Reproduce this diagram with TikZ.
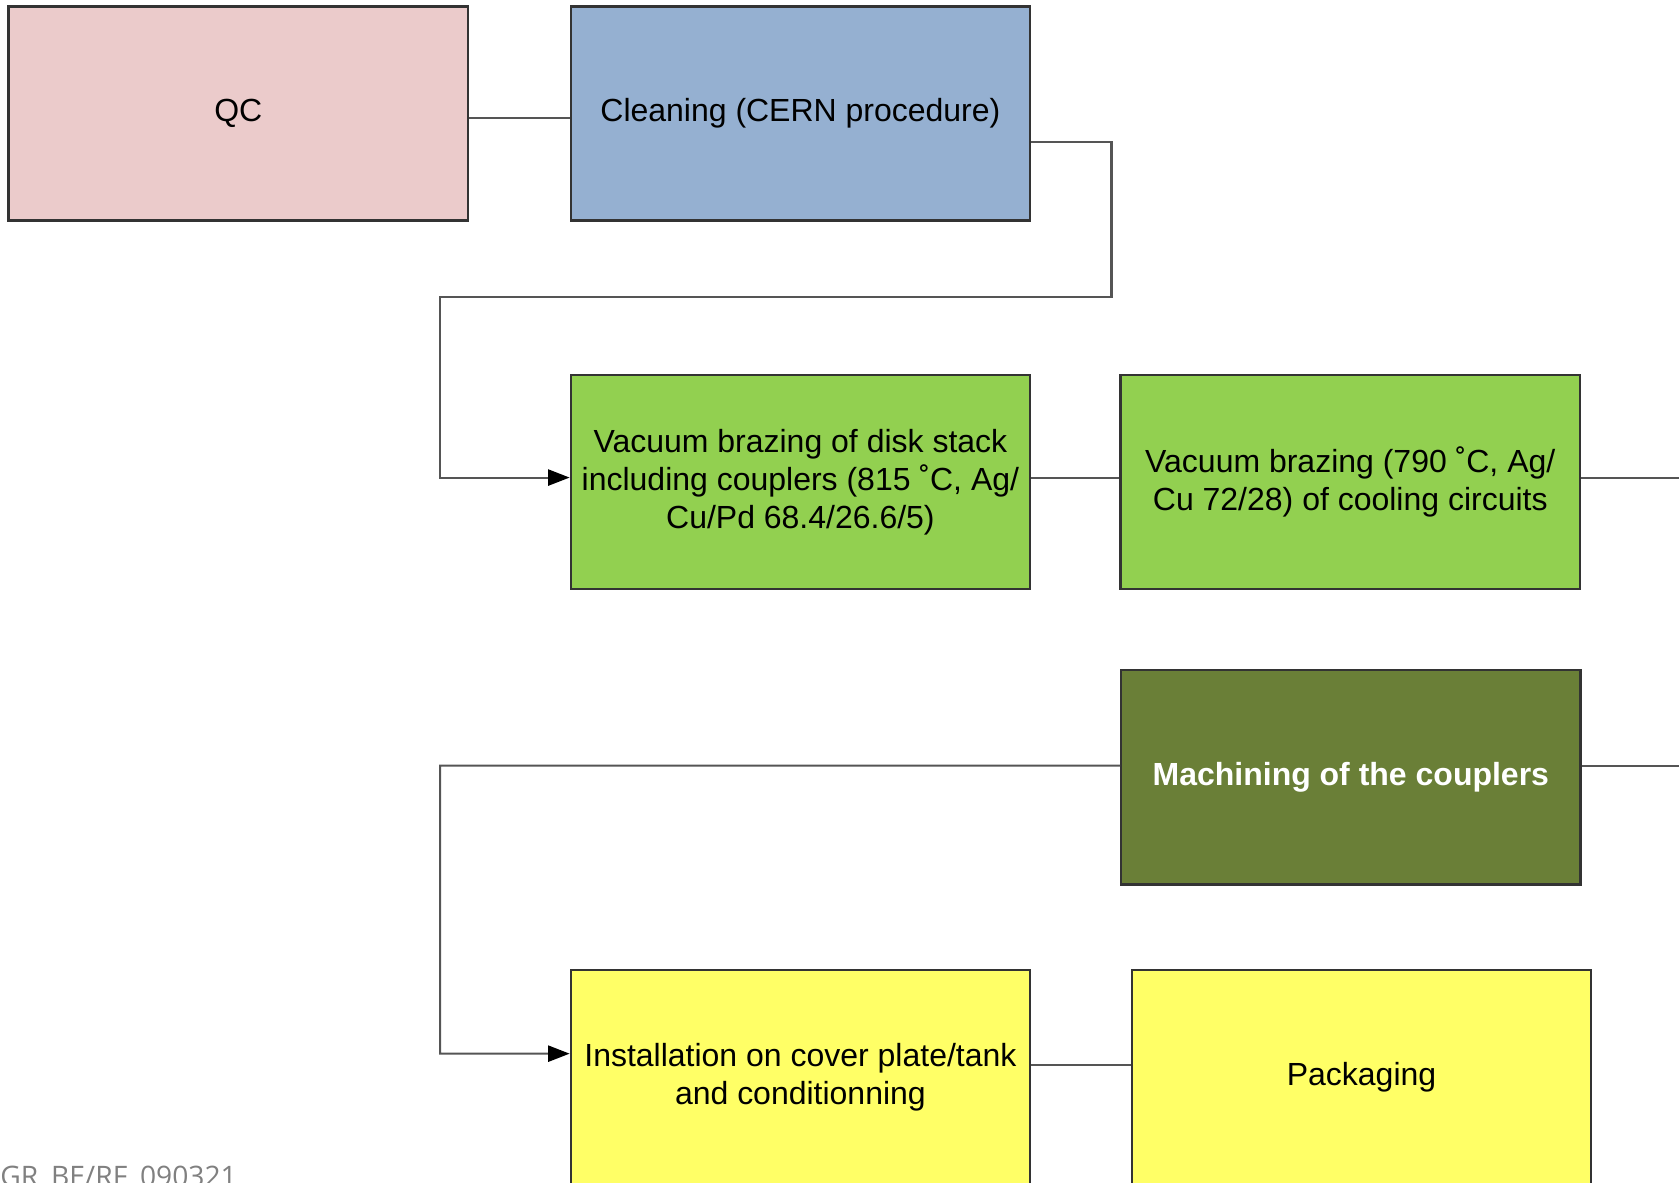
\documentclass[tikz,border=0pt]{standalone}
\usepackage{fontspec}
\setmainfont{Liberation Sans}
\newfontfamily\footfont{Open Sans}
\usepackage{xcolor}
\usetikzlibrary{arrows.meta}
\definecolor{qcpink}{HTML}{EBCBCB}
\definecolor{cleanblue}{HTML}{95B0D1}
\definecolor{brazegreen}{HTML}{92D050}
\definecolor{macholive}{HTML}{6A7F37}
\definecolor{packyellow}{HTML}{FFFF66}
\definecolor{edgegray}{HTML}{333333}
\definecolor{linegray}{HTML}{555555}

\begin{document}
\begin{tikzpicture}[
  >=Triangle,
  pbox/.style={rectangle, minimum width=8.58cm, minimum height=4cm,
    draw=edgegray, line width=1.2pt, inner sep=0pt, align=center,
    font=\fontsize{17}{20.2}\selectfont},
  conn/.style={draw=linegray, line width=1.1pt},
  arr/.style={conn, -{Triangle[length=4mm, width=3mm, black]}}
]
\useasboundingbox (0,0) rectangle (31.36,22.08);
\clip (0,0) rectangle (31.36,22.08);

% ---- Process boxes ----
\node[pbox, fill=qcpink] (qc) at (4.45,19.96) {QC};
\node[pbox, fill=cleanblue] (clean) at (14.95,19.96) {Cleaning (CERN procedure)};

\node[pbox, fill=brazegreen] (braze1) at (14.95,13.08)
  {Vacuum brazing of disk stack\\including couplers (815 ˚C, Ag/\\Cu/Pd 68.4/26.6/5)};
\node[pbox, fill=brazegreen] (braze2) at (25.22,13.08)
  {Vacuum brazing (790 ˚C, Ag/\\Cu 72/28) of cooling circuits};

\node[pbox, fill=macholive, text=white, font=\fontsize{17}{20.2}\selectfont\bfseries] (mach) at (25.23,7.56)
  {Machining of the couplers};

\node[pbox, fill=packyellow] (install) at (14.95,1.96)
  {Installation on cover plate/tank\\and conditionning};
\node[pbox, fill=packyellow] (pack) at (25.43,1.96) {Packaging};

% ---- Route points ----
\coordinate (edge) at (31.36,0);
\coordinate (rA) at (20.76,16.54);
\coordinate (lA) at (8.22,16.54);
\coordinate (lB) at (8.22,7.78);

% ---- Connectors ----
\draw[conn] ([yshift=-0.08cm]qc.east) -- ([yshift=-0.08cm]qc.east -| clean.west);
\draw[arr] ([yshift=-0.54cm]clean.east) -| (rA) -- (lA) |- ([yshift=0.08cm]braze1.west);
\draw[conn] ([yshift=0.08cm]braze1.east) -- ([yshift=0.08cm]braze1.east -| braze2.west);
\draw[conn] ([yshift=0.08cm]braze2.east) -- ([yshift=0.08cm]braze2.east -| edge);
\draw[conn] ([yshift=0.22cm]mach.east) -- ([yshift=0.22cm]mach.east -| edge);
\draw[arr] ([yshift=0.22cm]mach.west) -- (lB) |- ([yshift=0.44cm]install.west);
\draw[conn] ([yshift=0.22cm]install.east) -- ([yshift=0.22cm]install.east -| pack.west);

% ---- Footer ----
\node[anchor=base west, inner sep=0pt, text=gray, font=\fontsize{15}{15}\selectfont\footfont] (foot) at (0,-0.08) {GR\_BE/RF\_090321};

\end{tikzpicture}
\end{document}
